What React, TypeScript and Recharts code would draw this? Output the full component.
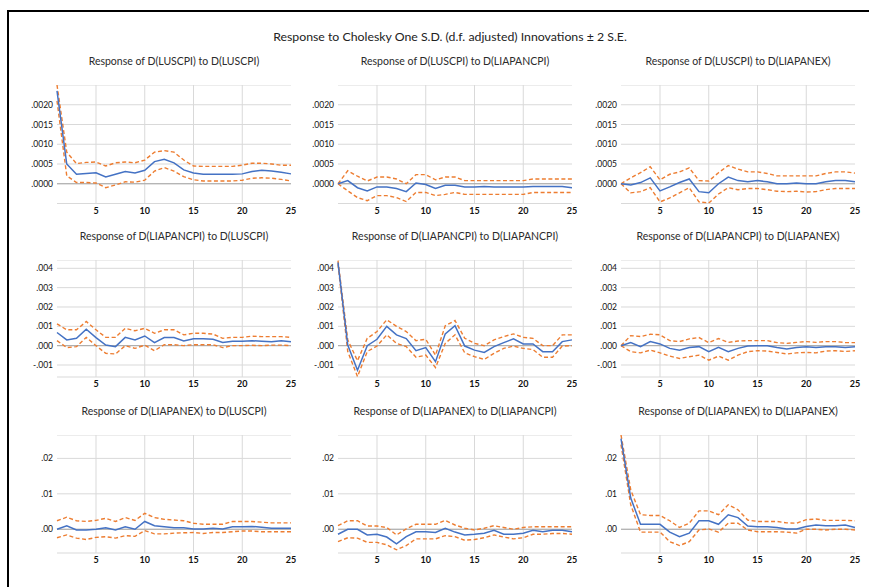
import React from "react";
import { LineChart, Line, XAxis, YAxis, CartesianGrid, ReferenceLine } from "recharts";

const horizons = [1, 2, 3, 4, 5, 6, 7, 8, 9, 10, 11, 12, 13, 14, 15, 16, 17, 18, 19, 20, 21, 22, 23, 24, 25];

const mainTitle = "Response to Cholesky One S.D. (d.f. adjusted) Innovations ± 2 S.E.";
const panelTitles = [
  "Response of D(LUSCPI) to D(LUSCPI)",
  "Response of D(LUSCPI) to D(LIAPANCPI)",
  "Response of D(LUSCPI) to D(LIAPANEX)",
  "Response of D(LIAPANCPI) to D(LUSCPI)",
  "Response of D(LIAPANCPI) to D(LIAPANCPI)",
  "Response of D(LIAPANCPI) to D(LIAPANEX)",
  "Response of D(LIAPANEX) to D(LUSCPI)",
  "Response of D(LIAPANEX) to D(LIAPANCPI)",
  "Response of D(LIAPANEX) to D(LIAPANEX)",
];

// row 1: response of D(LUSCPI)
const p1Resp = [0.00235, 0.0005, 0.00024, 0.00026, 0.00028, 0.00017, 0.00024, 0.00031, 0.00027, 0.00034, 0.00056, 0.00062, 0.00053, 0.00035, 0.00027, 0.00024, 0.00024, 0.00024, 0.00024, 0.00025, 0.00031, 0.00034, 0.00032, 0.00029, 0.00025];
const p1Up = [0.0025, 0.0008, 0.00051, 0.00054, 0.00055, 0.00045, 0.00053, 0.00055, 0.00053, 0.0006, 0.0008, 0.00084, 0.0008, 0.0006, 0.00045, 0.00044, 0.00044, 0.00044, 0.00044, 0.00047, 0.00052, 0.00052, 0.0005, 0.00047, 0.00047];
const p1Lo = [0.0021, 0.0002, 0.00003, 0.00003, 0.00002, -0.0001, -0.00003, 0.00005, 0.00004, 0.00009, 0.00032, 0.00041, 0.00032, 0.00018, 0.0001, 0.00007, 0.00007, 0.00007, 0.00007, 0.00009, 0.00014, 0.00015, 0.00014, 0.00011, 0.00007];

const p2Resp = [0, 0.00008, -0.0001, -0.00018, -0.00008, -0.00008, -0.00012, -0.0002, 0.00002, -0.00002, -0.00012, -0.00004, -0.00004, -0.00008, -0.00008, -0.00007, -0.00008, -0.00008, -0.00008, -0.00008, -0.00007, -0.00007, -0.00007, -0.00007, -0.0001];
const p2Up = [0, 0.00033, 0.00019, 0.00007, 0.00017, 0.00017, 0.00012, 0, 0.00023, 0.00023, 0.0001, 0.00017, 0.00017, 0.00008, 0.00008, 0.00008, 0.00008, 0.00008, 0.00008, 0.00008, 0.00012, 0.00012, 0.00012, 0.00012, 0.00012];
const p2Lo = [0, -0.00018, -0.00035, -0.00043, -0.0003, -0.0003, -0.00035, -0.00045, -0.00022, -0.00022, -0.0003, -0.00027, -0.00022, -0.00027, -0.00027, -0.00027, -0.00027, -0.00027, -0.00027, -0.00027, -0.00022, -0.00022, -0.00022, -0.00022, -0.00022];

const p3Resp = [0, -0.00003, 0.00003, 0.00015, -0.00018, -0.00008, 0.00003, 0.00012, -0.0002, -0.00023, 0, 0.00017, 0.00008, 0.00005, 0.00008, 0.00005, 0, 0, 0.00002, 0, 0, 0.00005, 0.00008, 0.00008, 0.00005];
const p3Up = [0, 0.00015, 0.00028, 0.00043, 0.0001, 0.00024, 0.0003, 0.0004, 0.00008, 0.00007, 0.00028, 0.00046, 0.00037, 0.0003, 0.0003, 0.00026, 0.0002, 0.0002, 0.0002, 0.0002, 0.0002, 0.00026, 0.0003, 0.0003, 0.00027];
const p3Lo = [0, -0.00023, -0.0002, -0.0001, -0.00046, -0.00036, -0.00023, -0.0001, -0.00046, -0.00049, -0.00026, -0.0001, -0.00015, -0.00012, -0.00012, -0.00015, -0.00019, -0.0002, -0.00019, -0.00021, -0.0002, -0.00015, -0.00012, -0.00012, -0.00012];

// row 2: response of D(LIAPANCPI)
const p4Resp = [0.00068, 0.0003, 0.00038, 0.00085, 0.00042, 0.00003, -0.00005, 0.00043, 0.0003, 0.0005, 0.00016, 0.00042, 0.00042, 0.00024, 0.00036, 0.00036, 0.00033, 0.00017, 0.00023, 0.00023, 0.00026, 0.00023, 0.0002, 0.00026, 0.0002];
const p4Up = [0.00113, 0.00082, 0.00082, 0.00125, 0.00082, 0.00043, 0.00043, 0.0009, 0.00077, 0.0009, 0.00064, 0.00082, 0.00082, 0.00056, 0.00064, 0.00064, 0.0006, 0.00038, 0.00043, 0.00043, 0.00049, 0.00047, 0.00047, 0.00047, 0.00043];
const p4Lo = [0.00026, -0.0001, -0.00005, 0.00043, 0, -0.0004, -0.00043, 0, -0.00014, 0.00003, -0.00026, 0.00005, 0.00005, 0, 0.00005, 0.00005, 0.00005, -0.0001, 0, 0, 0.00002, 0, 0.00003, 0.00003, 0];

const p5Resp = [0.0043, 0.00003, -0.00127, 0, 0.00033, 0.001, 0.00056, 0.00037, -0.00026, -0.0001, -0.00083, 0.00061, 0.00103, -0.00002, -0.00023, -0.00035, -0.00005, 0.00016, 0.00035, 0.00009, 0.00009, -0.00031, -0.00031, 0.00021, 0.0003];
const p5Up = [0.0044, 0.0003, -0.00078, 0.00038, 0.00073, 0.00134, 0.001, 0.00073, 0.00026, 0.00033, -0.00049, 0.00103, 0.0013, 0.00038, 0.00012, 0, 0.0003, 0.00047, 0.00061, 0.00043, 0.00038, 0, 0, 0.00056, 0.00056];
const p5Lo = [0.0042, -0.0003, -0.0016, -0.0003, -0.00002, 0.00056, 0.00012, -0.00005, -0.0006, -0.00049, -0.00113, 0.00012, 0.00056, -0.00037, -0.00057, -0.00071, -0.0004, -0.00014, -0.00002, -0.00014, -0.0002, -0.0006, -0.0006, -0.00002, 0];

const p6Resp = [0, 0.00016, -0.00005, 0.00021, 0.00009, -0.00014, -0.00023, -0.0001, -0.00005, -0.00031, -0.00009, -0.00031, -0.00014, -0.00002, 0, 0, -0.0001, -0.00017, -0.0001, -0.00005, -0.00009, -0.00005, -0.00005, -0.00009, -0.00005];
const p6Up = [0, 0.00052, 0.00047, 0.00059, 0.00056, 0.00026, 0.00021, 0.00035, 0.00042, 0.00016, 0.00037, 0.00017, 0.00024, 0.00026, 0.00026, 0.00026, 0.00016, 0.00012, 0.00017, 0.00021, 0.00017, 0.00021, 0.00021, 0.00016, 0.00016];
const p6Lo = [0, -0.00031, -0.00037, -0.00023, -0.00037, -0.00054, -0.00066, -0.00057, -0.00049, -0.00075, -0.00054, -0.00075, -0.00049, -0.00031, -0.00026, -0.00028, -0.00035, -0.00043, -0.00037, -0.00035, -0.00037, -0.00028, -0.00026, -0.0003, -0.00026];

// row 3: response of D(LIAPANEX)
const p7Resp = [0, 0.001, -0.0002, -0.0002, 0, 0.0004, -0.0002, 0.0007, 0, 0.0022, 0.001, 0.0007, 0.0004, 0.0004, 0.0001, 0.0001, 0.0003, 0.0001, 0.0007, 0.0007, 0.0008, 0.0006, 0.0003, 0.0003, 0.0003];
const p7Up = [0.0024, 0.0034, 0.0024, 0.0022, 0.0025, 0.0031, 0.0022, 0.0033, 0.0025, 0.0045, 0.0033, 0.0028, 0.0026, 0.0024, 0.0017, 0.0014, 0.0014, 0.0014, 0.0022, 0.0022, 0.0022, 0.002, 0.0018, 0.0018, 0.0018];
const p7Lo = [-0.0024, -0.0016, -0.0025, -0.0029, -0.0023, -0.0021, -0.0025, -0.0018, -0.002, -0.0004, -0.0013, -0.0013, -0.0011, -0.001, -0.0009, -0.0012, -0.0009, -0.0009, -0.0007, -0.0005, -0.0005, -0.0007, -0.0007, -0.0007, -0.0007];

const p8Resp = [-0.0014, 0, 0, -0.0016, -0.0014, -0.0022, -0.0041, -0.0021, -0.0007, -0.0007, -0.0009, 0.0003, -0.0008, -0.0016, -0.0014, -0.0011, -0.0003, -0.0014, -0.0014, -0.0011, -0.0003, -0.0007, -0.0003, -0.0003, -0.0007];
const p8Up = [0.001, 0.0024, 0.0024, 0.0009, 0.0009, 0.0005, -0.0016, 0.0001, 0.0014, 0.0014, 0.0014, 0.0025, 0.0012, 0.0003, -0.0002, 0.0003, 0.001, 0.0005, 0, 0.0005, 0.0007, 0.0007, 0.0007, 0.0007, 0.0007];
const p8Lo = [-0.0035, -0.0024, -0.0025, -0.0037, -0.0037, -0.0044, -0.0058, -0.0046, -0.0027, -0.0027, -0.0027, -0.0018, -0.0021, -0.0031, -0.0029, -0.0024, -0.0016, -0.0022, -0.0027, -0.0024, -0.0014, -0.0014, -0.0012, -0.0012, -0.0014];

const p9Resp = [0.0256, 0.0088, 0.0014, 0.0014, 0.0014, -0.0008, -0.0021, -0.0011, 0.0024, 0.0024, 0.0014, 0.0041, 0.0033, 0.0009, 0.0007, 0.0007, 0.0005, 0.0001, 0.0001, 0.0008, 0.0012, 0.001, 0.001, 0.0012, 0.0005];
const p9Up = [0.0266, 0.0111, 0.0041, 0.0039, 0.0039, 0.0024, 0.0005, 0.0017, 0.0052, 0.0052, 0.0041, 0.0069, 0.0055, 0.0026, 0.0022, 0.0022, 0.0022, 0.0018, 0.0017, 0.0027, 0.0029, 0.0025, 0.0025, 0.0025, 0.0024];
const p9Lo = [0.0239, 0.0069, -0.0008, -0.0008, -0.0008, -0.0035, -0.0046, -0.0035, -0.0002, 0.0001, -0.0008, 0.0017, 0.0017, -0.0002, -0.0007, -0.0007, -0.0007, -0.0008, -0.0011, 0, 0, -0.0002, 0, 0, -0.0002];

const row1Ticks = [0, 0.0005, 0.001, 0.0015, 0.002];
const row2Ticks = [-0.001, 0, 0.001, 0.002, 0.003, 0.004];
const row3Ticks = [0, 0.01, 0.02];
const xTicks = [5, 10, 15, 20, 25];
const xGrid = [5, 10, 15, 20];

const FONT = "Lato, 'Liberation Sans', sans-serif";
const BLUE = "#4472c4";
const ORANGE = "#ed7d31";

const colLeft = [57, 338, 621];
const rowTop = [84.5, 260, 435];
const rowHeight = [118.5, 117, 118];
const titleTop = [55, 230, 405];
const PLOT_W = 234;
const Y_W = 50;
const R_PAD = 14;

const rows = [
  { ticks: row1Ticks, domain: [-0.0005, 0.0025], digits: 4 },
  { ticks: row2Ticks, domain: [-0.00162, 0.00443], digits: 3 },
  { ticks: row3Ticks, domain: [-0.0067, 0.0266], digits: 2 },
];

const series = [
  [p1Resp, p1Up, p1Lo], [p2Resp, p2Up, p2Lo], [p3Resp, p3Up, p3Lo],
  [p4Resp, p4Up, p4Lo], [p5Resp, p5Up, p5Lo], [p6Resp, p6Up, p6Lo],
  [p7Resp, p7Up, p7Lo], [p8Resp, p8Up, p8Lo], [p9Resp, p9Up, p9Lo],
];

const fmt = (digits: number) => (v: number) => Number(v).toFixed(digits).replace(/^(-?)0\./, "$1.");

function Panel({ idx }: { idx: number }) {
  const r = Math.floor(idx / 3);
  const c = idx % 3;
  const row = rows[r];
  const [resp, up, lo] = series[idx];
  const data = horizons.map((h, i) => ({ x: h, resp: resp[i], up: up[i], lo: lo[i] }));
  const h = rowHeight[r];
  return (
    <>
      <div style={{ position: "absolute", left: colLeft[c] - 20, top: titleTop[r], width: PLOT_W + 40, textAlign: "center", fontFamily: FONT, fontSize: 10.5, color: "#2b2b2b", whiteSpace: "nowrap" }}>
        {panelTitles[idx]}
      </div>
      <div style={{ position: "absolute", left: colLeft[c] - Y_W, top: rowTop[r] }}>
        <LineChart width={Y_W + PLOT_W + R_PAD} height={h + 20} data={data} margin={{ top: 0, right: R_PAD, bottom: 0, left: 0 }}>
          <CartesianGrid vertical={false} stroke="#d9d9d9" />
          {xGrid.map((g) => (
            <ReferenceLine key={g} x={g} stroke="#d9d9d9" />
          ))}
          <ReferenceLine y={0} stroke="#a6a6a6" />
          <XAxis dataKey="x" type="number" domain={[1, 25]} ticks={xTicks} interval={0} axisLine={false} tickLine={false} tickSize={0} tickMargin={4} height={20} tick={{ fontSize: 9, fill: "#111", fontFamily: FONT, fontWeight: 700 }} />
          <YAxis type="number" domain={row.domain} allowDataOverflow ticks={row.ticks} interval={0} width={Y_W} axisLine={false} tickLine={false} tickSize={0} tickMargin={4} tickFormatter={fmt(row.digits)} tick={{ fontSize: 8.5, fill: "#111", fontFamily: FONT }} />
          <Line dataKey="up" stroke={ORANGE} strokeWidth={1.4} strokeDasharray="4 2.5" dot={false} isAnimationActive={false} />
          <Line dataKey="lo" stroke={ORANGE} strokeWidth={1.4} strokeDasharray="4 2.5" dot={false} isAnimationActive={false} />
          <Line dataKey="resp" stroke={BLUE} strokeWidth={1.5} dot={false} isAnimationActive={false} />
        </LineChart>
      </div>
    </>
  );
}

export default function App() {
  return (
    <div style={{ position: "absolute", left: 0, top: 0, width: 869, height: 587, background: "#fff", overflow: "hidden" }}>
      <div style={{ position: "absolute", left: 7, top: 10, width: 900, height: 620, borderTop: "2px solid #000", borderLeft: "2px solid #000" }} />
      <div style={{ position: "absolute", left: 0, top: 29, width: 900, textAlign: "center", fontFamily: FONT, fontSize: 12.3, color: "#222", whiteSpace: "nowrap" }}>
        {mainTitle}
      </div>
      {panelTitles.map((_, i) => (
        <Panel key={i} idx={i} />
      ))}
    </div>
  );
}
